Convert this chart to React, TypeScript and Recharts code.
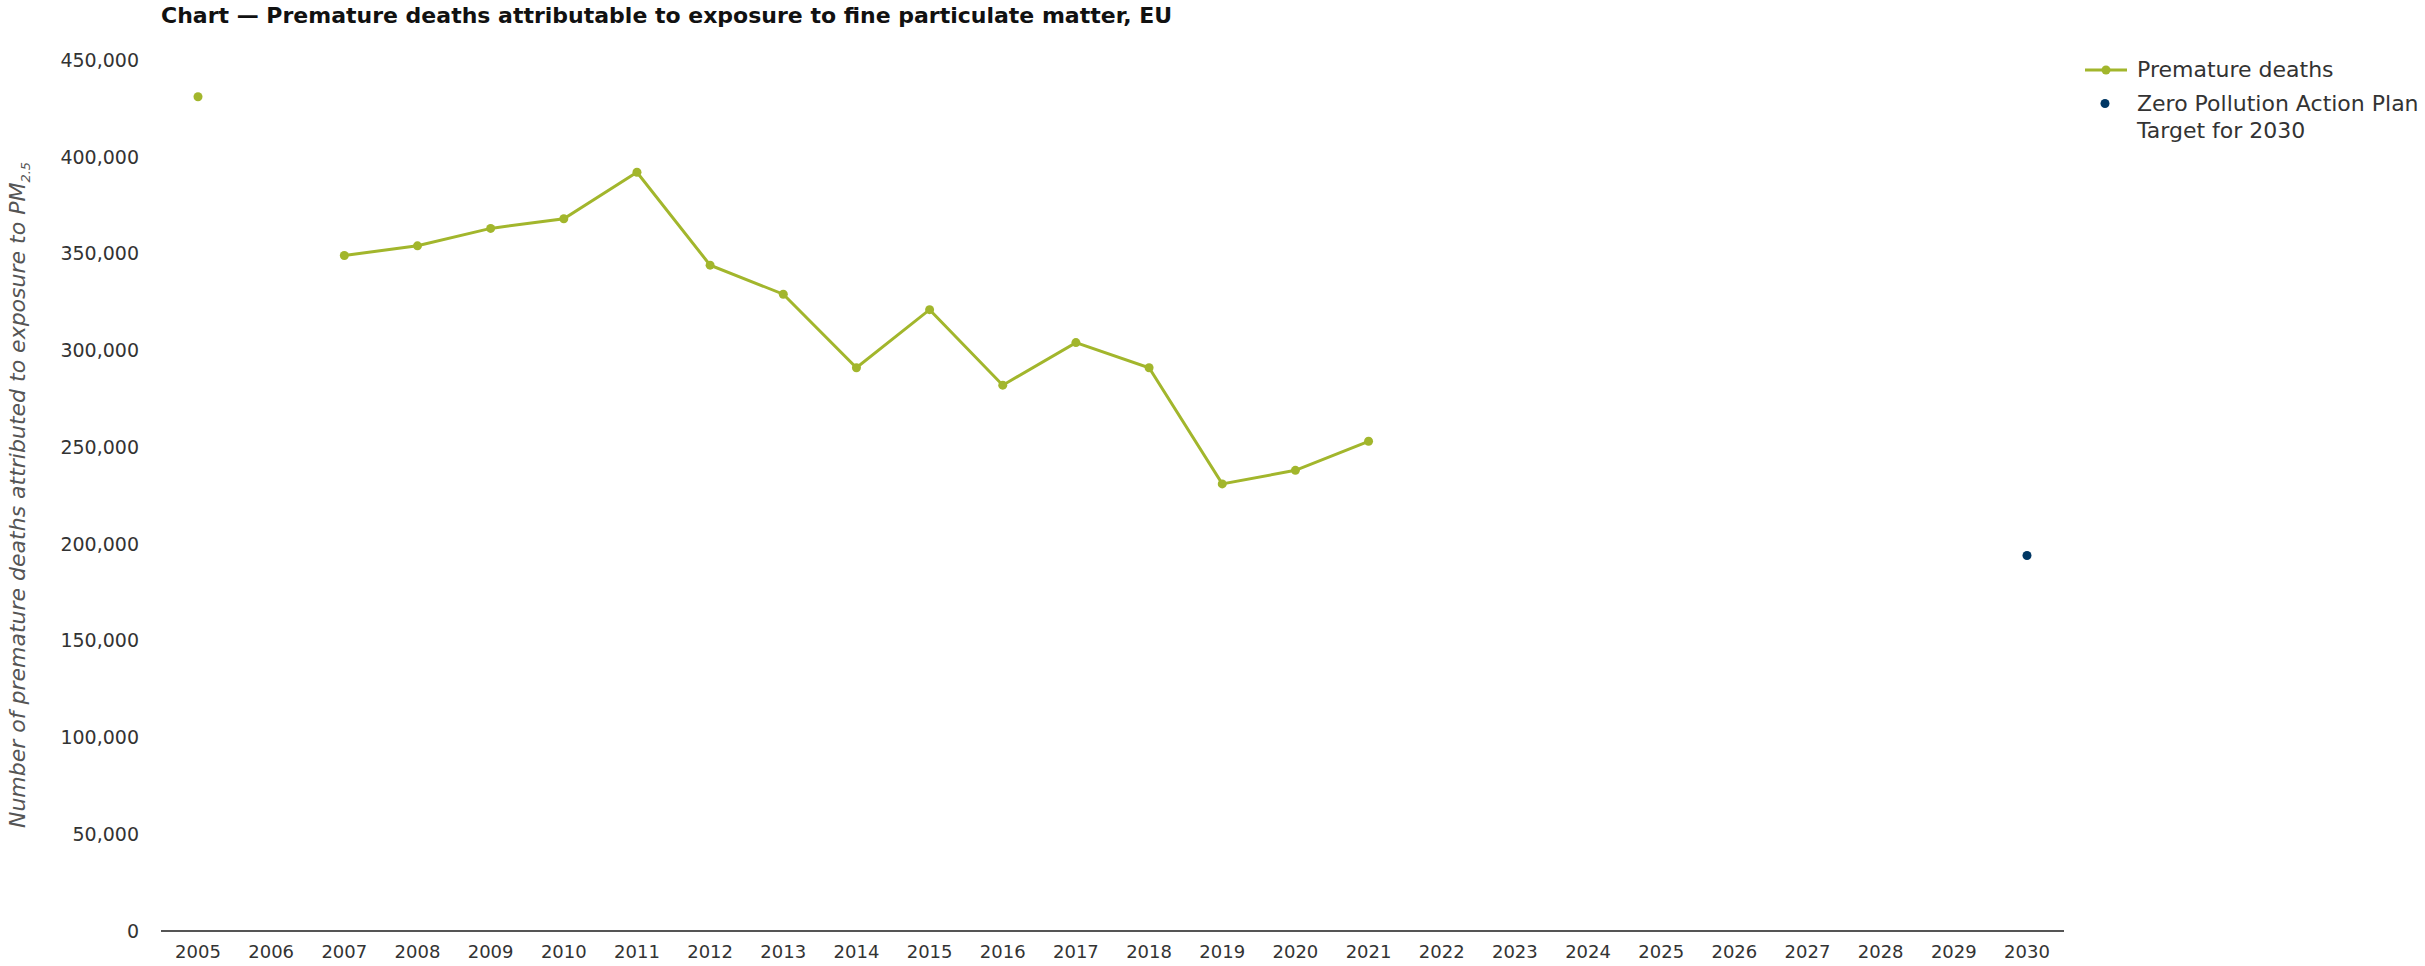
import { LineChart, Line, XAxis, YAxis, Legend, Customized } from 'recharts';

const years = [
    '2005', '2006', '2007', '2008', '2009', '2010', '2011', '2012', '2013',
    '2014', '2015', '2016', '2017', '2018', '2019', '2020', '2021', '2022',
    '2023', '2024', '2025', '2026', '2027', '2028', '2029', '2030',
];

const prematureDeaths: (number | null)[] = [
    431000, null, 349000, 354000, 363000, 368000, 392000, 344000, 329000,
    291000, 321000, 282000, 304000, 291000, 231000, 238000, 253000, null,
    null, null, null, null, null, null, null, null,
];

const targetValues: (number | null)[] = [
    null, null, null, null, null, null, null, null, null,
    null, null, null, null, null, null, null, null, null,
    null, null, null, null, null, null, null, 194000,
];

const yTicks = [0, 50000, 100000, 150000, 200000, 250000, 300000, 350000, 400000, 450000];

const GREEN = '#A2B62C';
const NAVY = '#003764';
const FONT = '"DejaVu Sans", sans-serif';

const data = years.map((year, i) => ({
    year,
    deaths: prematureDeaths[i],
    target: targetValues[i],
}));

function Title() {
    return (
        <text x={161} y={23} fontFamily={FONT} fontSize={22} fontWeight="bold" fill="#111">
            Chart — Premature deaths attributable to exposure to fine particulate matter, EU
        </text>
    );
}

function YLabel() {
    return (
        <text
            transform="translate(25, 495) rotate(-90)"
            textAnchor="middle"
            fontFamily={FONT}
            fontSize={22}
            fontStyle="italic"
            fill="#555"
        >
            Number of premature deaths attributed to exposure to PM
            <tspan fontSize={13} dy={5}>2.5</tspan>
        </text>
    );
}

function LegendBox() {
    return (
        <div style={{ fontFamily: FONT, fontSize: 22, color: '#333', lineHeight: '27px' }}>
            <div style={{ display: 'flex', alignItems: 'center' }}>
                <svg width={42} height={12} style={{ marginRight: 10 }}>
                    <line x1={0} y1={6} x2={42} y2={6} stroke={GREEN} strokeWidth={3} />
                    <circle cx={21} cy={6} r={4.5} fill={GREEN} />
                </svg>
                <span>Premature deaths</span>
            </div>
            <div style={{ display: 'flex', alignItems: 'flex-start', marginTop: 7 }}>
                <svg width={42} height={27} style={{ marginRight: 10 }}>
                    <circle cx={20} cy={13.5} r={4.5} fill={NAVY} />
                </svg>
                <span>
                    Zero Pollution Action Plan
                    <br />
                    Target for 2030
                </span>
            </div>
        </div>
    );
}

export default function App() {
    return (
        <div>
            <style>{'body { margin: 0; }'}</style>
            <LineChart
                width={2425}
                height={966}
                data={data}
                margin={{ top: 60, right: 361, left: 0, bottom: 0 }}
            >
                <XAxis
                    dataKey="year"
                    height={35}
                    padding={{ left: 37, right: 37 }}
                    tickLine={false}
                    tickSize={0}
                    tickMargin={14}
                    interval={0}
                    axisLine={{ stroke: '#555', strokeWidth: 2 }}
                    tick={{ fontFamily: FONT, fontSize: 18, fill: '#333' }}
                />
                <YAxis
                    width={161}
                    domain={[0, 450000]}
                    ticks={yTicks}
                    interval={0}
                    axisLine={false}
                    tickLine={false}
                    tickSize={0}
                    tickMargin={22}
                    tickFormatter={(v: number) => v.toLocaleString('en-US')}
                    tick={{ fontFamily: FONT, fontSize: 19, fill: '#333' }}
                />
                <Legend
                    layout="vertical"
                    align="center"
                    verticalAlign="middle"
                    content={() => <LegendBox />}
                    wrapperStyle={{ left: 2085, top: 56, width: 340 }}
                />
                <Line
                    type="linear"
                    dataKey="deaths"
                    name="Premature deaths"
                    stroke={GREEN}
                    strokeWidth={3}
                    dot={{ r: 4.5, fill: GREEN, stroke: 'none' }}
                    activeDot={false}
                    isAnimationActive={false}
                />
                <Line
                    type="linear"
                    dataKey="target"
                    name="Zero Pollution Action Plan Target for 2030"
                    stroke="none"
                    dot={{ r: 4.5, fill: NAVY, stroke: 'none' }}
                    activeDot={false}
                    isAnimationActive={false}
                />
                <Customized component={Title} />
                <Customized component={YLabel} />
            </LineChart>
        </div>
    );
}
